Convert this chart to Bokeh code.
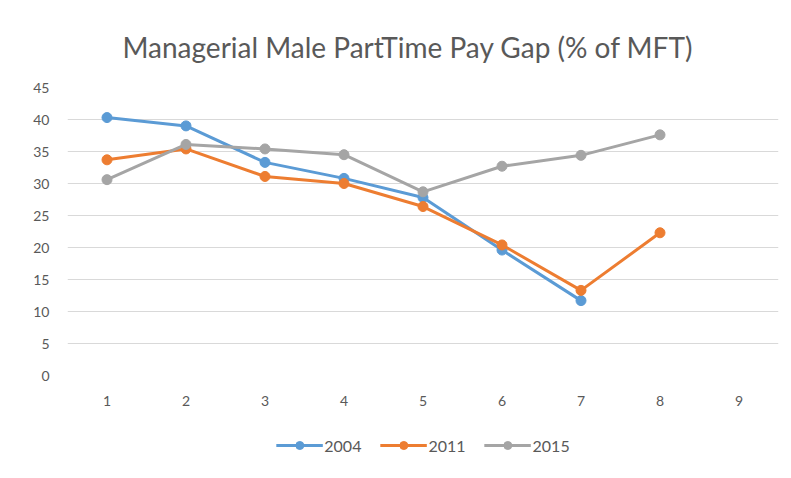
from bokeh.plotting import figure
from bokeh.layouts import column
from bokeh.models import Range1d, FixedTicker, Legend, LegendItem
from bokeh.embed import file_html
from bokeh.resources import INLINE

x_2004 = [1, 2, 3, 4, 5, 6, 7]
y_2004 = [40.3, 39.0, 33.3, 30.8, 27.8, 19.6, 11.7]
x_2011 = [1, 2, 3, 4, 5, 6, 7, 8]
y_2011 = [33.7, 35.4, 31.1, 30.0, 26.4, 20.4, 13.3, 22.3]
x_2015 = [1, 2, 3, 4, 5, 6, 7, 8]
y_2015 = [30.6, 36.1, 35.4, 34.5, 28.7, 32.7, 34.4, 37.6]
x_ticks = [1, 2, 3, 4, 5, 6, 7, 8, 9]
y_ticks = [0, 5, 10, 15, 20, 25, 30, 35, 40, 45]
series_names = ["2004", "2011", "2015"]
series_colors = ["#5B9BD5", "#ED7D31", "#A5A5A5"]

FONT = "Lato"
TXT = "#595959"
W = 785

p = figure(width=W, height=408, output_backend="svg", toolbar_location=None,
           x_range=Range1d(0.5, 9.5), y_range=Range1d(0, 45),
           min_border_left=67, min_border_right=7, min_border_top=87, min_border_bottom=30)
p.title.text = "Managerial Male PartTime Pay Gap (% of MFT)"
p.title.align = "left"
p.title.offset = 55
p.title.text_font = FONT
p.title.text_font_size = "28px"
p.title.text_font_style = "normal"
p.title.text_color = TXT
p.title.standoff = 47

p.outline_line_color = None

p.xaxis.ticker = FixedTicker(ticks=x_ticks)
p.yaxis.ticker = FixedTicker(ticks=y_ticks)
for ax in (p.xaxis[0], p.yaxis[0]):
    ax.axis_line_color = None
    ax.major_tick_line_color = None
    ax.minor_tick_line_color = None
    ax.major_label_text_font = FONT
    ax.major_label_text_font_size = "14px"
    ax.major_label_text_color = TXT
p.xaxis.major_label_standoff = 14
p.yaxis.major_label_standoff = 12
p.xgrid.grid_line_color = None
p.ygrid.grid_line_color = "#d9d9d9"
p.ygrid.grid_line_width = 1

data = [(x_2004, y_2004), (x_2011, y_2011), (x_2015, y_2015)]
for (xs, ys), c in zip(data, series_colors):
    p.line(xs, ys, line_color=c, line_width=3)
    p.scatter(xs, ys, size=10, marker="circle", fill_color=c, line_color=c)

# legend strip below the chart (its glyphs lie outside this strip's visible range)
lg = figure(width=W, height=62, output_backend="svg", toolbar_location=None,
            x_range=Range1d(100, 101), y_range=Range1d(100, 101),
            min_border_left=0, min_border_right=5, min_border_top=12, min_border_bottom=0)
lg.axis.visible = False
lg.grid.visible = False
lg.outline_line_color = None
items = []
for name, (xs, ys), c in zip(series_names, data, series_colors):
    l = lg.line(xs, ys, line_color=c, line_width=3)
    s = lg.scatter(xs, ys, size=10, marker="circle", fill_color=c, line_color=c)
    items.append(LegendItem(label=name, renderers=[l, s]))
legend = Legend(items=items, orientation="horizontal", location="center",
                label_text_font=FONT, label_text_font_size="16px", label_text_color=TXT,
                border_line_color=None, background_fill_alpha=0,
                glyph_width=47, spacing=18, label_standoff=2)
lg.add_layout(legend, "center")

layout = column(p, lg, spacing=0)
open("out.html", "w").write(file_html(layout, INLINE))
